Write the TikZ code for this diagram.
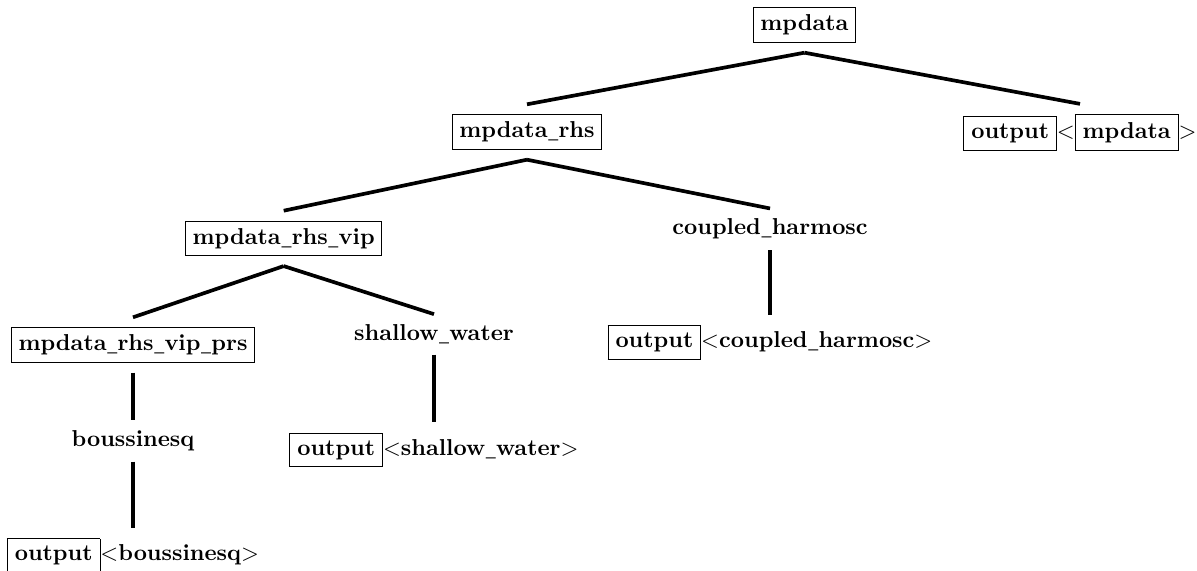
\documentclass[tikz,border=0pt]{standalone}
\usepackage{graphicx}
\newcommand\us{\kern.03em\scalebox{0.5}[1]{\_}\kern.01em}
\begin{document}
\begin{tikzpicture}[x=0.4348pt, y=-0.4348pt, font=\bfseries,
  box/.style={draw, line width=0.4pt, inner sep=3pt},
  lbl/.style={inner sep=0pt},
  treeedge/.style={line width=1.6pt}]
\useasboundingbox (0,0) rectangle (1197,571);
\newcommand\tedge[2]{\draw[treeedge] ([yshift=-4.4pt]#1.south) -- ([yshift=4.4pt]#2.north);}
% level 0
\node[box] (root) at (804.5,25) {mpdata};
% level 1
\node[box] (rhs) at (527,132) {mpdata\us rhs};
\node[lbl] (o1) at (1080,132.5) {\fbox{output}$<$\fbox{mpdata}$>$};
% level 2
\node[box] (vip) at (283.7,238.4) {mpdata\us rhs\us vip};
\node[lbl, anchor=base] (ch) at (770,235) {coupled\us harmosc};
% level 3
\node[box] (prs) at (133,345) {mpdata\us rhs\us vip\us prs};
\node[lbl, anchor=base] (sw) at (434,340.7) {shallow\us water};
\node[lbl] (och) at (770,342.5) {\fbox{output}$<$coupled\us harmosc$>$};
% level 4
\node[lbl, anchor=base] (bous) at (133,446.7) {boussinesq};
\node[lbl] (osw) at (434,450) {\fbox{output}$<$shallow\us water$>$};
% level 5
\node[lbl] (ob) at (133,555.5) {\fbox{output}$<$boussinesq$>$};
% edges
\tedge{root}{rhs}
\tedge{root}{o1}
\tedge{rhs}{vip}
\tedge{rhs}{ch}
\tedge{vip}{prs}
\tedge{vip}{sw}
\tedge{ch}{och}
\tedge{prs}{bous}
\tedge{bous}{ob}
\tedge{sw}{osw}
\end{tikzpicture}
\end{document}
